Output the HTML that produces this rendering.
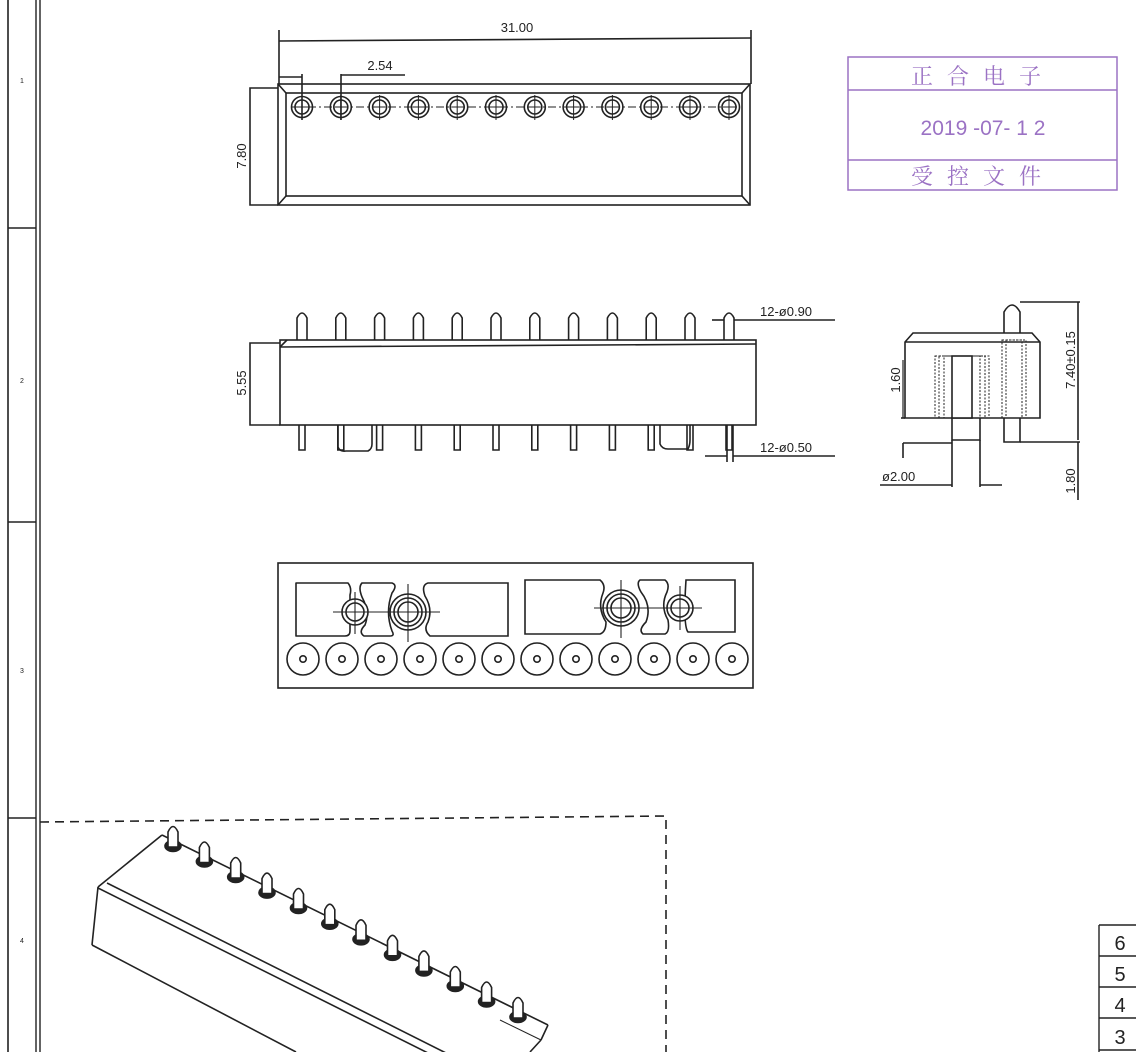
<!DOCTYPE html>
<html><head><meta charset="utf-8"><style>
html,body{margin:0;padding:0;background:#fff}
svg{display:block}
text{font-family:"Liberation Sans","Noto Sans CJK SC",sans-serif;fill:#222}
</style></head><body>
<svg width="1136" height="1052" viewBox="0 0 1136 1052" xmlns="http://www.w3.org/2000/svg" stroke="#222" fill="none" stroke-width="1.6">
<!-- left border -->
<line x1="8" y1="0" x2="8" y2="1052"/>
<line x1="36" y1="0" x2="36" y2="1052" stroke-width="1.4"/>
<line x1="40" y1="0" x2="40" y2="1052" stroke-width="1.4"/>
<line x1="8" y1="228" x2="36" y2="228"/>
<line x1="8" y1="522" x2="36" y2="522"/>
<line x1="8" y1="818" x2="36" y2="818"/>
<g stroke="none" font-size="7"><text x="20" y="83">1</text><text x="20" y="383">2</text><text x="20" y="673">3</text><text x="20" y="943">4</text></g>

<!-- top view -->
<rect x="278" y="84" width="472" height="121"/>
<rect x="286" y="93" width="456" height="103"/>
<line x1="278" y1="84" x2="286" y2="93"/><line x1="750" y1="84" x2="742" y2="93"/>
<line x1="278" y1="205" x2="286" y2="196"/><line x1="750" y1="205" x2="742" y2="196"/>
<polyline points="278,88 250,88 250,205 278,205"/>
<text x="246" y="156" font-size="13" stroke="none" transform="rotate(-90 246 156)" text-anchor="middle">7.80</text>
<line x1="279" y1="30" x2="279" y2="84"/><line x1="751" y1="30" x2="751" y2="84"/>
<line x1="279" y1="41" x2="751" y2="38"/>
<text x="517" y="32" font-size="13" stroke="none" text-anchor="middle">31.00</text>
<line x1="279" y1="77" x2="302" y2="77"/>
<line x1="302" y1="74" x2="302" y2="120"/>
<line x1="341" y1="74" x2="341" y2="120"/>
<line x1="341" y1="75" x2="405" y2="75"/>
<text x="380" y="70" font-size="13" stroke="none" text-anchor="middle">2.54</text>
<line x1="292" y1="107" x2="740" y2="107" stroke-dasharray="8,3,2,3" stroke-width="1"/>
<g id="tp">
<circle cx="302" cy="107" r="10.5"/><circle cx="302" cy="107" r="7"/>
<line x1="302" y1="95" x2="302" y2="120" stroke-width="1"/><line x1="296" y1="107" x2="308" y2="107" stroke-width="1"/>
</g>
<use href="#tp" x="38.8"/><use href="#tp" x="77.6"/><use href="#tp" x="116.4"/><use href="#tp" x="155.2"/><use href="#tp" x="194"/><use href="#tp" x="232.8"/><use href="#tp" x="271.6"/><use href="#tp" x="310.4"/><use href="#tp" x="349.2"/><use href="#tp" x="388"/><use href="#tp" x="427"/>

<!-- stamp -->
<g stroke="#9b72c4" stroke-width="1.5">
<rect x="848" y="57" width="269" height="133"/>
<line x1="848" y1="90" x2="1117" y2="90"/>
<line x1="848" y1="160" x2="1117" y2="160"/>
</g>
<g stroke="none" text-anchor="middle">
<text x="983" y="84" font-size="22" style="fill:#9b72c4;font-family:'Noto Serif CJK SC',serif" letter-spacing="14">正合电子</text>
<text x="983" y="135" font-size="21" style="fill:#9b72c4">2019 -07- 1 2</text>
<text x="983" y="184" font-size="22" style="fill:#9b72c4;font-family:'Noto Serif CJK SC',serif" letter-spacing="14">受控文件</text>
</g>

<!-- side view -->
<rect x="280" y="340" width="476" height="85"/>
<line x1="280" y1="347" x2="756" y2="344"/>
<line x1="280" y1="347" x2="287" y2="340"/>
<polyline points="280,343 250,343 250,425 280,425"/>
<text x="246" y="383" font-size="13" stroke="none" transform="rotate(-90 246 383)" text-anchor="middle">5.55</text>
<g id="sp">
<path d="M297,340 V318 Q302,308 307,318 V340"/>
<path d="M299,425 V450 H305 V425"/>
</g>
<use href="#sp" x="38.8"/><use href="#sp" x="77.6"/><use href="#sp" x="116.4"/><use href="#sp" x="155.2"/><use href="#sp" x="194"/><use href="#sp" x="232.8"/><use href="#sp" x="271.6"/><use href="#sp" x="310.4"/><use href="#sp" x="349.2"/><use href="#sp" x="388"/><use href="#sp" x="427"/>
<path d="M338,425 V447 Q340,452 346,451 H368 Q372,449 372,444 V425"/>
<path d="M660,425 V444 Q662,449 668,449 H688 Q690,445 690,440 V425"/>
<line x1="712" y1="320" x2="724" y2="320"/><line x1="734" y1="320" x2="835" y2="320"/>
<text x="760" y="316" font-size="13" stroke="none">12-ø0.90</text>
<line x1="705" y1="456" x2="727" y2="456"/><line x1="733" y1="456" x2="835" y2="456"/>
<line x1="727" y1="425" x2="727" y2="462"/><line x1="733" y1="425" x2="733" y2="462"/>
<text x="760" y="452" font-size="13" stroke="none">12-ø0.50</text>

<!-- right view -->
<path d="M905,418 V342 L913,333 H1032 L1040,342 V418 Z"/>
<line x1="905" y1="342" x2="1040" y2="342"/>
<path d="M1004,333 V312 Q1012,298 1020,312 V333"/>
<path d="M1004,418 V442 H1020 V418"/>
<g stroke-dasharray="2,1.5" stroke-width="1">
<rect x="935" y="356" width="54" height="62"/><rect x="939" y="356" width="46" height="62"/><rect x="944" y="356" width="36" height="62"/>
<rect x="1002" y="340" width="24" height="78"/><rect x="1006" y="340" width="16" height="78"/>
</g>
<rect x="952" y="356" width="20" height="62" fill="#fff"/>
<path d="M952,418 V440 H980 V418"/>
<line x1="1020" y1="302" x2="1080" y2="302"/><line x1="1078" y1="302" x2="1078" y2="440"/>
<line x1="1020" y1="442" x2="1080" y2="442"/><line x1="1078" y1="442" x2="1078" y2="500"/>
<line x1="903" y1="418" x2="903" y2="360" stroke-width="1.2"/><line x1="901" y1="418" x2="905" y2="418"/>
<line x1="903" y1="443" x2="952" y2="443"/><line x1="903" y1="443" x2="903" y2="458"/>
<line x1="952" y1="440" x2="952" y2="487"/><line x1="980" y1="440" x2="980" y2="487"/>
<line x1="880" y1="485" x2="952" y2="485"/><line x1="980" y1="485" x2="1002" y2="485"/>
<text x="1075" y="360" font-size="13" stroke="none" transform="rotate(-90 1075 360)" text-anchor="middle">7.40±0.15</text>
<text x="900" y="380" font-size="13" stroke="none" transform="rotate(-90 900 380)" text-anchor="middle">1.60</text>
<text x="1075" y="481" font-size="13" stroke="none" transform="rotate(-90 1075 481)" text-anchor="middle">1.80</text>
<text x="882" y="481" font-size="13" stroke="none">ø2.00</text>

<!-- bottom view -->
<rect x="278" y="563" width="475" height="125"/>
<path d="M296,583 H348 Q352,588 350,595 V631 Q350,636 345,636 H296 Z" stroke-linejoin="round"/>
<path d="M362,583 H392 Q398,585 392,593 Q385,612 392,631 Q395,636 390,636 H364 Q358,632 365,625 Q370,612 362,597 Q358,587 362,583Z"/>
<path d="M428,583 H508 V636 H430 Q423,630 428,622 Q433,609 425,596 Q421,585 428,583Z"/>
<path d="M525,580 H600 Q606,585 603,593 Q597,608 606,622 Q606,632 600,634 H525 Z"/>
<path d="M640,580 H665 Q670,584 667,592 Q660,606 668,620 Q670,632 665,634 H643 Q638,630 646,622 Q652,606 641,592 Q636,583 640,580Z"/>
<path d="M686,580 H735 V632 H688 Q683,626 686,580Z"/>
<circle cx="355" cy="612" r="13" fill="#fff"/><circle cx="355" cy="612" r="9"/>
<circle cx="408" cy="612" r="18" fill="#fff"/><circle cx="408" cy="612" r="14"/><circle cx="408" cy="612" r="10"/>
<circle cx="621" cy="608" r="18" fill="#fff"/><circle cx="621" cy="608" r="14"/><circle cx="621" cy="608" r="10"/>
<circle cx="680" cy="608" r="13" fill="#fff"/><circle cx="680" cy="608" r="9"/>
<g stroke-width="1.1">
<line x1="333" y1="612" x2="440" y2="612"/><line x1="355" y1="592" x2="355" y2="634"/><line x1="408" y1="584" x2="408" y2="642"/>
<line x1="594" y1="608" x2="702" y2="608"/><line x1="621" y1="580" x2="621" y2="638"/><line x1="680" y1="586" x2="680" y2="630"/>
</g>
<g id="bc"><circle cx="303" cy="659" r="16"/><circle cx="303" cy="659" r="3.2"/></g>
<use href="#bc" x="39"/><use href="#bc" x="78"/><use href="#bc" x="117"/><use href="#bc" x="156"/><use href="#bc" x="195"/><use href="#bc" x="234"/><use href="#bc" x="273"/><use href="#bc" x="312"/><use href="#bc" x="351"/><use href="#bc" x="390"/><use href="#bc" x="429"/>

<!-- iso view -->
<polyline points="40,822 666,816 666,1052" stroke-dasharray="9,6"/>
<line x1="98" y1="887" x2="162" y2="835"/>
<line x1="107" y1="883" x2="450" y2="1055"/>
<line x1="98" y1="888" x2="432" y2="1055"/>
<line x1="98" y1="887" x2="92" y2="945"/>
<line x1="92" y1="945" x2="296" y2="1052"/>
<line x1="162" y1="835" x2="548" y2="1025"/>
<line x1="548" y1="1025" x2="541" y2="1040"/>
<line x1="541" y1="1040" x2="530" y2="1052"/>
<line x1="541" y1="1040" x2="500" y2="1020" stroke-width="1"/>
<g id="ip">
<ellipse cx="173" cy="846" rx="8" ry="5.5" fill="#222"/>
<path d="M168,847 V832 Q173,821 178,832 V847 Z" fill="#fff"/>
</g>
<use href="#ip" x="31.4" y="15.5"/><use href="#ip" x="62.7" y="31"/><use href="#ip" x="94" y="46.6"/><use href="#ip" x="125.5" y="62"/><use href="#ip" x="156.8" y="77.7"/><use href="#ip" x="188" y="93.3"/><use href="#ip" x="219.5" y="108.8"/><use href="#ip" x="250.9" y="124.4"/><use href="#ip" x="282.3" y="140"/><use href="#ip" x="313.6" y="155.5"/><use href="#ip" x="345" y="171"/>

<!-- table -->
<g stroke-width="1.4">
<line x1="1099" y1="925" x2="1099" y2="1052"/>
<line x1="1099" y1="925" x2="1136" y2="925"/>
<line x1="1099" y1="956" x2="1136" y2="956"/>
<line x1="1099" y1="987" x2="1136" y2="987"/>
<line x1="1099" y1="1018" x2="1136" y2="1018"/>
<line x1="1099" y1="1050" x2="1136" y2="1050"/>
</g>
<g stroke="none" font-size="20" style="font-family:'Liberation Serif',serif" text-anchor="middle">
<text x="1120" y="950">6</text><text x="1120" y="981">5</text><text x="1120" y="1012">4</text><text x="1120" y="1044">3</text>
</g>
</svg>
</body></html>
